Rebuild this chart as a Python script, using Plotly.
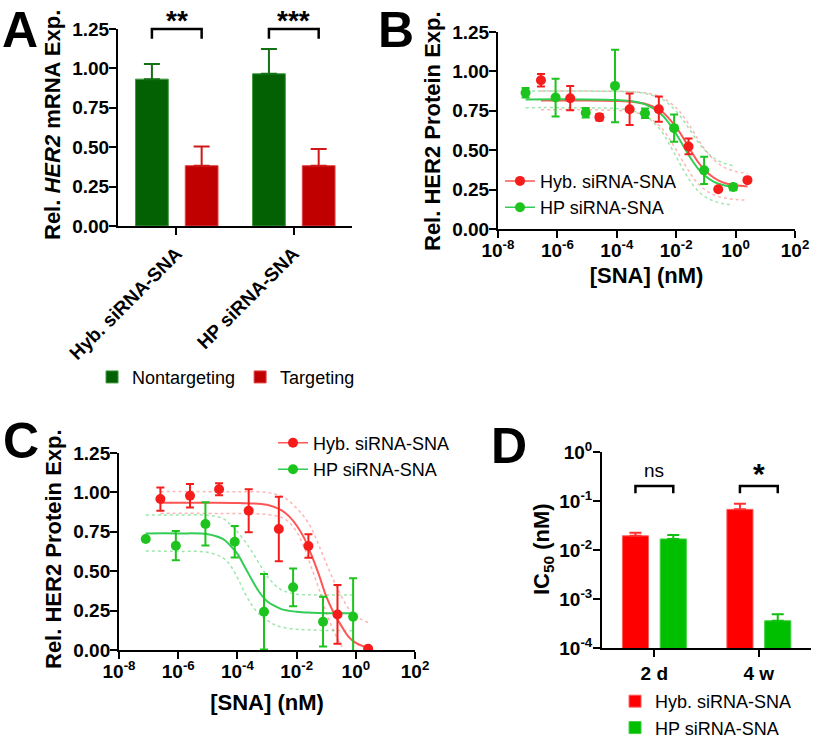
import plotly.graph_objects as go

FONT = "Liberation Sans, Arial, sans-serif"
W, H = 813, 744

# ---------------- Panel A data ----------------
a_groups = ["Hyb. siRNA-SNA", "HP siRNA-SNA"]
a_nontarget = [0.932, 0.966]
a_nontarget_err = [0.096, 0.157]
a_target = [0.383, 0.383]
a_target_err = [0.121, 0.106]
a_sig = ["**", "***"]
a_yticks = [0, 0.25, 0.5, 0.75, 1.0, 1.25]

# ---------------- Panel B data ----------------
b_hyb_x = [2.8e-7, 2.7e-6, 2.6e-5, 2.7e-4, 2.6e-3, 2.6e-2, 0.26, 2.5]
b_hyb_y = [0.944, 0.830, 0.709, 0.760, 0.760, 0.524, 0.252, 0.310]
b_hyb_err = [0.040, 0.077, 0.020, 0.100, 0.080, 0.050, 0.0, 0.0]
b_hp_x = [8.5e-8, 8.7e-7, 9.0e-6, 8.7e-5, 8.9e-4, 8.5e-3, 0.087, 0.83]
b_hp_y = [0.864, 0.834, 0.738, 0.908, 0.735, 0.640, 0.372, 0.266]
b_hp_err = [0.030, 0.120, 0.030, 0.230, 0.030, 0.087, 0.087, 0.020]

b_fit_hyb_x = [2.8e-7, 1e-5, 1e-4, 3.2e-4, 1e-3, 3.2e-3, 1e-2, 1.8e-2, 3.2e-2,
               5.6e-2, 0.1, 0.18, 0.32, 0.56, 1.0, 2.5]
b_fit_hyb_y = [0.815, 0.815, 0.812, 0.807, 0.792, 0.747, 0.645, 0.572, 0.493,
               0.422, 0.366, 0.327, 0.301, 0.286, 0.277, 0.270]
b_ci_hyb_hi = [0.875, 0.875, 0.874, 0.871, 0.862, 0.836, 0.769, 0.711, 0.640,
               0.565, 0.496, 0.442, 0.404, 0.380, 0.365, 0.353]
b_ci_hyb_lo = [0.757, 0.757, 0.752, 0.743, 0.715, 0.641, 0.502, 0.419, 0.344,
               0.285, 0.245, 0.218, 0.202, 0.193, 0.187, 0.183]

b_fit_hp_x = [8.5e-8, 1e-5, 1e-4, 3.2e-4, 1e-3, 3.2e-3, 5.6e-3, 1e-2, 1.8e-2,
              3.2e-2, 5.6e-2, 0.1, 0.18, 0.32, 0.83]
b_fit_hp_y = [0.822, 0.822, 0.818, 0.811, 0.788, 0.727, 0.673, 0.603, 0.522,
              0.444, 0.380, 0.333, 0.301, 0.282, 0.266]
b_ci_hp_hi = [0.875, 0.875, 0.873, 0.870, 0.858, 0.826, 0.793, 0.747, 0.685,
              0.616, 0.548, 0.493, 0.452, 0.425, 0.401]
b_ci_hp_lo = [0.770, 0.769, 0.764, 0.751, 0.713, 0.620, 0.545, 0.458, 0.370,
              0.295, 0.239, 0.202, 0.178, 0.164, 0.152]

# ---------------- Panel C data ----------------
c_hyb_x = [2.5e-7, 2.5e-6, 2.4e-5, 2.4e-4, 2.5e-3, 2.5e-2, 0.24, 2.6]
c_hyb_y = [0.958, 0.979, 1.020, 0.884, 0.768, 0.660, 0.226, 0.008]
c_hyb_err = [0.074, 0.074, 0.038, 0.136, 0.205, 0.074, 0.186, 0.0]
c_hp_x = [8.0e-8, 8.3e-7, 8.3e-6, 8.1e-5, 7.9e-4, 7.6e-3, 0.078, 0.81]
c_hp_y = [0.704, 0.662, 0.800, 0.687, 0.243, 0.398, 0.180, 0.211]
c_hp_err = [0.0, 0.093, 0.137, 0.100, 0.240, 0.120, 0.158, 0.244]

c_fit_hyb_x = [2.5e-7, 1e-5, 1e-4, 1e-3, 3.2e-3, 5.6e-3, 1e-2, 1.8e-2, 3.2e-2,
               5.6e-2, 0.1, 0.18, 0.32, 0.56, 1.0, 2.6]
c_fit_hyb_y = [0.935, 0.935, 0.933, 0.922, 0.885, 0.848, 0.790, 0.710, 0.600,
               0.480, 0.340, 0.235, 0.155, 0.085, 0.045, 0.012]
c_ci_hyb_hi = [1.005, 1.005, 1.004, 1.000, 0.975, 0.945, 0.900, 0.845, 0.770,
               0.665, 0.550, 0.440, 0.345, 0.265, 0.215, 0.175]
c_ci_hyb_lo_x = [2.5e-7, 1e-5, 1e-4, 1e-3, 3.2e-3, 5.6e-3, 1e-2, 1.8e-2, 3.2e-2,
                 5.6e-2, 0.1, 0.18, 0.32, 0.4]
c_ci_hyb_lo = [0.867, 0.867, 0.866, 0.860, 0.840, 0.810, 0.750, 0.650, 0.520,
               0.390, 0.235, 0.120, 0.030, 0.0]

c_fit_hp_x = [8e-8, 1e-6, 1e-5, 3.2e-5, 5.6e-5, 1e-4, 1.8e-4, 3.2e-4, 5.6e-4,
              1e-3, 1.8e-3, 3.2e-3, 1e-2, 3.2e-2, 0.1, 0.81]
c_fit_hp_y = [0.740, 0.740, 0.735, 0.705, 0.665, 0.610, 0.525, 0.440, 0.365,
              0.310, 0.280, 0.258, 0.243, 0.237, 0.234, 0.233]
c_ci_hp_hi = [0.857, 0.857, 0.855, 0.835, 0.800, 0.750, 0.690, 0.620, 0.545,
              0.470, 0.415, 0.380, 0.354, 0.350, 0.349, 0.349]
c_ci_hp_lo = [0.628, 0.626, 0.620, 0.585, 0.540, 0.460, 0.360, 0.280, 0.225,
              0.190, 0.160, 0.145, 0.132, 0.127, 0.124, 0.123]

conc_ticks = [1e-8, 1e-6, 1e-4, 1e-2, 1e0, 1e2]
conc_ticktext = ["10<sup>-8</sup>", "10<sup>-6</sup>", "10<sup>-4</sup>",
                 "10<sup>-2</sup>", "10<sup>0</sup>", "10<sup>2</sup>"]

# ---------------- Panel D data ----------------
d_groups = ["2 d", "4 w"]
d_hyb = [0.0195, 0.0676]
d_hyb_err = [0.0030, 0.0204]
d_hp = [0.0168, 0.00036]
d_hp_err = [0.0034, 0.00013]
d_sig = ["ns", "*"]
d_ticks = [1e-4, 1e-3, 1e-2, 1e-1, 1e0]
d_ticktext = ["10<sup>-4</sup>", "10<sup>-3</sup>", "10<sup>-2</sup>",
              "10<sup>-1</sup>", "10<sup>0</sup>"]

# ---------------- colours ----------------
A_GREEN, A_GREEN_EDGE = "#036003", "#3f9a3f"
A_RED, A_RED_EDGE = "#c00000", "#e04848"
RED, GREEN = "#f51c1c", "#1ec41e"
RED_FIT, GREEN_FIT = "#ff5555", "#33cc55"
RED_CI, GREEN_CI = "rgba(255,90,90,0.45)", "rgba(40,200,70,0.45)"
D_RED, D_GREEN = "#ff0000", "#00bf00"

fig = go.Figure()

# ---------- A ----------
A_W = 0.28
fig.add_trace(go.Bar(
    x=a_groups, y=a_nontarget, name="Nontargeting", width=A_W, offset=-0.35,
    marker=dict(color=A_GREEN, line=dict(color=A_GREEN_EDGE, width=1)),
    error_y=dict(type="data", array=a_nontarget_err, arrayminus=[0, 0],
                 color="#147014", thickness=2, width=8),
    xaxis="x", yaxis="y", legend="legend"))
fig.add_trace(go.Bar(
    x=a_groups, y=a_target, name="Targeting", width=A_W, offset=0.075,
    marker=dict(color=A_RED, line=dict(color=A_RED_EDGE, width=1)),
    error_y=dict(type="data", array=a_target_err, arrayminus=[0, 0],
                 color="#d01818", thickness=2, width=8),
    xaxis="x", yaxis="y", legend="legend"))


def ci_line(x, y, color, xa, ya):
    return go.Scatter(x=x, y=y, mode="lines", line=dict(color=color, width=1.5, dash="dot",
                      shape="spline"), xaxis=xa, yaxis=ya, showlegend=False, hoverinfo="skip")


def fit_line(x, y, color, xa, ya):
    return go.Scatter(x=x, y=y, mode="lines", line=dict(color=color, width=2, shape="spline"),
                      xaxis=xa, yaxis=ya, showlegend=False, hoverinfo="skip")


def points(x, y, err, color, xa, ya):
    return go.Scatter(x=x, y=y, mode="markers", marker=dict(color=color, size=10),
                      error_y=dict(type="data", array=err, color=color, thickness=2, width=4),
                      xaxis=xa, yaxis=ya, showlegend=False)


def legend_entry(name, color, linecolor, xa, ya, leg):
    return go.Scatter(x=[None], y=[None], mode="lines+markers", name=name,
                      marker=dict(color=color, size=10), line=dict(color=linecolor, width=1.5),
                      xaxis=xa, yaxis=ya, legend=leg)


# ---------- B ----------
for t in [ci_line(b_fit_hyb_x, b_ci_hyb_hi, RED_CI, "x2", "y2"),
          ci_line(b_fit_hyb_x, b_ci_hyb_lo, RED_CI, "x2", "y2"),
          ci_line(b_fit_hp_x, b_ci_hp_hi, GREEN_CI, "x2", "y2"),
          ci_line(b_fit_hp_x, b_ci_hp_lo, GREEN_CI, "x2", "y2"),
          fit_line(b_fit_hyb_x, b_fit_hyb_y, RED_FIT, "x2", "y2"),
          fit_line(b_fit_hp_x, b_fit_hp_y, GREEN_FIT, "x2", "y2"),
          points(b_hp_x, b_hp_y, b_hp_err, GREEN, "x2", "y2"),
          points(b_hyb_x, b_hyb_y, b_hyb_err, RED, "x2", "y2"),
          legend_entry("Hyb. siRNA-SNA", RED, RED_FIT, "x2", "y2", "legend2"),
          legend_entry("HP siRNA-SNA", GREEN, GREEN_FIT, "x2", "y2", "legend2")]:
    fig.add_trace(t)

# ---------- C ----------
for t in [ci_line(c_fit_hyb_x, c_ci_hyb_hi, RED_CI, "x3", "y3"),
          ci_line(c_ci_hyb_lo_x, c_ci_hyb_lo, RED_CI, "x3", "y3"),
          ci_line(c_fit_hp_x, c_ci_hp_hi, GREEN_CI, "x3", "y3"),
          ci_line(c_fit_hp_x, c_ci_hp_lo, GREEN_CI, "x3", "y3"),
          fit_line(c_fit_hyb_x, c_fit_hyb_y, RED_FIT, "x3", "y3"),
          fit_line(c_fit_hp_x, c_fit_hp_y, GREEN_FIT, "x3", "y3"),
          points(c_hp_x, c_hp_y, c_hp_err, GREEN, "x3", "y3"),
          points(c_hyb_x, c_hyb_y, c_hyb_err, RED, "x3", "y3"),
          legend_entry("Hyb. siRNA-SNA", RED, RED_FIT, "x3", "y3", "legend3"),
          legend_entry("HP siRNA-SNA", GREEN, GREEN_FIT, "x3", "y3", "legend3")]:
    fig.add_trace(t)

# ---------- D ----------
D_W = 0.25
fig.add_trace(go.Bar(
    x=d_groups, y=d_hyb, name="Hyb. siRNA-SNA", width=D_W, offset=-0.305,
    marker=dict(color=D_RED, line=dict(color="#ff6060", width=1)),
    error_y=dict(type="data", array=d_hyb_err, arrayminus=[0, 0], color="#ff3030",
                 thickness=2, width=6),
    xaxis="x4", yaxis="y4", legend="legend4"))
fig.add_trace(go.Bar(
    x=d_groups, y=d_hp, name="HP siRNA-SNA", width=D_W, offset=0.057,
    marker=dict(color=D_GREEN, line=dict(color="#40d040", width=1)),
    error_y=dict(type="data", array=d_hp_err, arrayminus=[0, 0], color="#10c010",
                 thickness=2, width=6),
    xaxis="x4", yaxis="y4", legend="legend4"))

# ---------- axes ----------
tickfont = dict(family=FONT, size=19, color="black", weight="bold")
titlefont = dict(family=FONT, size=22, color="black", weight="bold")
axcommon = dict(showline=True, linecolor="black", linewidth=2, ticks="outside",
                ticklen=7, tickwidth=2, tickcolor="black", showgrid=False,
                zeroline=False, tickfont=tickfont, fixedrange=True, automargin=False)

lin_y = dict(range=[0, 1.25], tickvals=a_yticks, tickformat=".2f",
             ticklabelstandoff=-4, **axcommon)

legfont = dict(family=FONT, size=18, color="black")

fig.update_layout(
    template="none",
    width=W, height=H, margin=dict(l=0, r=0, t=0, b=0, autoexpand=False),
    paper_bgcolor="white", plot_bgcolor="white",
    font=dict(family=FONT, color="black"),
    barmode="group",
    xaxis=dict(domain=[0.1451, 0.4330], anchor="y", type="category",
               range=[-0.5, 1.5], tickangle=-45, **axcommon),
    yaxis=dict(domain=[0.6962, 0.9610], anchor="x", **lin_y),
    xaxis2=dict(domain=[0.6125, 0.9779], anchor="y2", type="log", range=[-8, 2],
                tickvals=conc_ticks, ticktext=conc_ticktext, ticklabelstandoff=-4,
                title=dict(text="[SNA] (nM)", font=titlefont, standoff=8), **axcommon),
    yaxis2=dict(domain=[0.6922, 0.9570], anchor="x2", **lin_y),
    xaxis3=dict(domain=[0.1464, 0.5105], anchor="y3", type="log", range=[-8, 2],
                tickvals=conc_ticks, ticktext=conc_ticktext, ticklabelstandoff=-4,
                title=dict(text="[SNA] (nM)", font=titlefont, standoff=14), **axcommon),
    yaxis3=dict(domain=[0.1263, 0.3911], anchor="x3", **lin_y),
    xaxis4=dict(domain=[0.7405, 0.9975], anchor="y4", type="category",
                range=[-0.5, 1.5], **axcommon),
    yaxis4=dict(domain=[0.1290, 0.3925], anchor="x4", type="log", range=[-4, 0],
                tickvals=d_ticks, ticktext=d_ticktext, ticklabelstandoff=-3,
                **axcommon),
    legend=dict(orientation="h", x=0.1132, y=0.493, xanchor="left", yanchor="middle",
                font=legfont, bgcolor="rgba(0,0,0,0)"),
    legend2=dict(x=0.615, y=0.739, xanchor="left", yanchor="middle",
                 font=legfont, bgcolor="rgba(0,0,0,0)"),
    legend3=dict(x=0.3358, y=0.387, xanchor="left", yanchor="middle",
                 font=legfont, bgcolor="rgba(0,0,0,0)"),
    legend4=dict(x=0.7565, y=0.0397, xanchor="left", yanchor="middle",
                 font=legfont, bgcolor="rgba(0,0,0,0)"),
)

# ---------- significance brackets ----------
shapes = []
annotations = []
a_left = [i - 0.35 + A_W / 2 for i in range(len(a_groups))]
a_right = [i + 0.075 + A_W / 2 for i in range(len(a_groups))]
for xl, xr, s in zip(a_left, a_right, a_sig):
    shapes.append(dict(type="path", xref="x", yref="y domain",
                       path=f"M {xl},0.95 L {xl},1.0 L {xr},1.0 L {xr},0.95",
                       line=dict(color="black", width=2.5)))
    annotations.append(dict(x=(xl + xr) / 2, y=1.045, xref="x", yref="y domain",
                            text=s, showarrow=False, yanchor="middle",
                            font=dict(family=FONT, size=28, weight="bold", color="black")))

d_left = [i - 0.305 + D_W / 2 for i in range(len(d_groups))]
d_right = [i + 0.057 + D_W / 2 for i in range(len(d_groups))]
for xl, xr, s in zip(d_left, d_right, d_sig):
    shapes.append(dict(type="path", xref="x4", yref="y4 domain",
                       path=f"M {xl},0.79 L {xl},0.826 L {xr},0.826 L {xr},0.79",
                       line=dict(color="black", width=2.5)))
    big = s == "*"
    annotations.append(dict(x=(xl + xr) / 2, y=0.905 if not big else 0.89,
                            xref="x4", yref="y4 domain", text=s, showarrow=False,
                            yanchor="middle",
                            font=dict(family=FONT, size=30 if big else 19,
                                      weight="bold" if big else "normal", color="black")))

# ---------- y-axis titles (rotated text) ----------
for text, px, py in [("Rel. <i>HER2</i> mRNA Exp.", 53, 125),
                     ("Rel. HER2 Protein Exp.", 433, 131),
                     ("Rel. HER2 Protein Exp.", 53, 549),
                     ("IC<sub>50</sub> (nM)", 543, 549)]:
    annotations.append(dict(x=px / W, y=1 - py / H, xref="paper", yref="paper", text=text,
                            textangle=-90, showarrow=False, xanchor="center",
                            yanchor="middle", font=titlefont))

# ---------- panel letters ----------
letter_font = dict(family=FONT, size=50, weight="bold", color="black")
for letter, px, py, anchor in [("A", 20, 0, "top"), ("B", 396, 0, "top"),
                               ("C", 21, 441, "middle"), ("D", 509, 446, "middle")]:
    annotations.append(dict(x=px / W, y=1 - py / H, xref="paper", yref="paper",
                            text=letter, showarrow=False, xanchor="center", yanchor=anchor,
                            font=letter_font))

fig.update_layout(shapes=shapes, annotations=annotations)
fig.write_html("out.html", config={"displayModeBar": False},
               post_script="document.body.style.margin='0px';"
                           "document.body.style.overflow='hidden';")
